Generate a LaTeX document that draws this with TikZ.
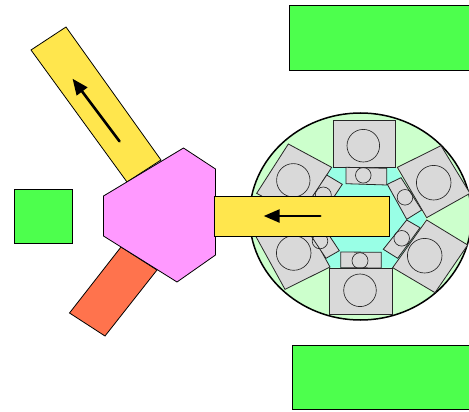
\documentclass[tikz,border=0pt]{standalone}
\usetikzlibrary{arrows.meta}
\definecolor{grn}{HTML}{4DFF4D}
\definecolor{yel}{HTML}{FFE64D}
\definecolor{pnk}{HTML}{FF99FF}
\definecolor{org}{HTML}{FF734D}
\definecolor{lgr}{HTML}{CCFFCC}
\definecolor{gry}{HTML}{D9D9D9}
\definecolor{cyn}{HTML}{99FFE6}
\tikzset{
  shp/.style={draw=black,line width=0.8pt,line join=miter},
  box/.style={shp,fill=grn},
  bar/.style={shp,fill=yel},
  hub/.style={shp,fill=pnk},
  gbox/.style={draw=black!85,line width=0.8pt,fill=gry},
  gcirc/.style={draw=black!85,line width=0.65pt},
  flow/.style={draw=black,line width=2.6pt,line cap=round,-{Triangle[length=16pt,width=13pt]}},
}
\tikzset{declare function={zx(\a)=240+\a/3; zy(\a)=105+\a/3;}}
\newcommand{\Z}[2]{({zx(#1)},{zy(#2)})}
\begin{document}
\begin{tikzpicture}[x=1pt,y=-1pt]
\useasboundingbox (0,0) rectangle (469,412);
\draw[box] (289.5,5.5) rectangle (469.5,70);
\draw[box] (292.5,345) rectangle (469.5,409);
\draw[box] (14.5,189.5) rectangle (72.5,243);
\begin{scope}
\clip (0,0) rectangle (469,412);
\draw[draw=black,line width=1.5pt,fill=lgr] (360.5,216.5) ellipse [x radius=111,y radius=103.5];
\fill[cyn] (332.3,166.7) -- (395.7,167.3) -- (426,219) -- (392.3,267.7) -- (329.3,267.7) -- (303,216.7) -- cycle;
\draw[gbox] \Z{281}{47} -- \Z{466}{47} -- \Z{466}{186} -- \Z{281}{186} -- cycle;
\draw[gbox] \Z{603}{122} -- \Z{690}{265} -- \Z{560}{338} -- \Z{472}{187} -- cycle;
\draw[gbox] \Z{560}{345} -- \Z{683}{420} -- \Z{585}{563} -- \Z{458}{488} -- cycle;
\draw[gbox] \Z{269}{490} -- \Z{456}{490} -- \Z{456}{628} -- \Z{269}{628} -- cycle;
\draw[gbox] \Z{135}{553} -- \Z{270}{486} -- \Z{183}{328} -- \Z{48}{395} -- cycle;
\draw[gbox] \Z{145}{117} -- \Z{275}{187} -- \Z{180}{335} -- \Z{50}{265} -- cycle;
\draw[gbox] (346,167.3) -- (386.7,168.3) -- (386.7,185) -- (346,183.7) -- cycle;
\draw[gbox] (387.3,184.3) -- (401,177.7) -- (421.7,210) -- (406.7,219.3) -- cycle;
\draw[gbox] (383.3,249.3) -- (406.7,220) -- (420,227.7) -- (397.7,258.3) -- cycle;
\draw[gbox] (340.7,252) -- (381.3,252.3) -- (381.3,268) -- (340.7,267.7) -- cycle;
\draw[gbox] (339.3,250.7) -- (326,258.3) -- (303.5,224.4) -- (316.8,216.8) -- cycle;
\draw[gbox] (326.7,175) -- (342.3,184.3) -- (319.9,218.1) -- (304.3,208.8) -- cycle;
\foreach \cx/\cy/\r in {363.3/145.7/16.3, 433.7/182.7/17.3, 424.7/255.7/17.3, 360/290.3/16.3, 293.7/253/17.3, 293.3/180.3/16.7, 363.3/175.3/7.8, 405/197.3/7.8, 401.7/238.3/7.8, 360/260.7/8, 320/241/7.8, 323.3/195/8}
  \draw[gcirc] (\cx,\cy) circle [radius=\r];
\end{scope}
\draw[bar] (66,27) -- (161,160) -- (127,182) -- (31,50) -- cycle;
\draw[shp,fill=org] (121,247) -- (157,270) -- (105,336) -- (69.5,313) -- cycle;
\draw[hub] (183.5,148) -- (215.5,169) -- (215.5,255) -- (177,282) -- (103.5,236) -- (103.5,196) -- cycle;
\draw[bar] (214.5,196) rectangle (389,236);
\node[inner sep=0pt] (tailA) at (120,142) {};
\node[inner sep=0pt] (headA) at (72,78) {};
\draw[flow] (tailA) -- (headA);
\node[inner sep=0pt] (tailB) at (321,216) {};
\node[inner sep=0pt] (headB) at (263,216) {};
\draw[flow] (tailB) -- (headB);
\end{tikzpicture}
\end{document}
